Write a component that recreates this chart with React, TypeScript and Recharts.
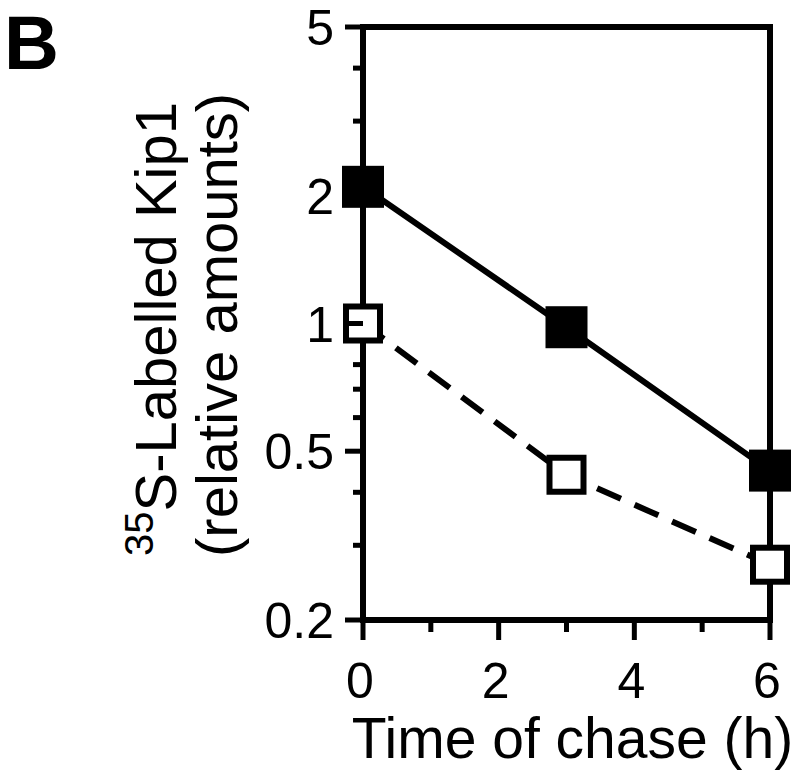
import React from 'react';
import { LineChart, Line, XAxis, YAxis, ReferenceLine } from 'recharts';

const times = [0, 3, 6];
const filledKip1 = [2.1, 0.98, 0.45];
const openKip1 = [1.0, 0.44, 0.27];

const xTicks = [0, 1, 2, 3, 4, 5, 6];
const xMajor = [0, 2, 4, 6];
const yTicks = [0.2, 0.3, 0.4, 0.5, 0.6, 0.7, 0.8, 0.9, 1, 2, 3, 4, 5];
const yMajor = [0.2, 0.5, 1, 2, 5];

const data = times.map((t, i) => ({ time: t, filled: filledKip1[i], open: openKip1[i] }));

const font = '"Liberation Sans", Arial, Helvetica, sans-serif';

const YTick = (props: any) => {
  const { x, y, payload } = props;
  const major = yMajor.includes(payload.value);
  return (
    <g>
      <line x1={x - (major ? 18 : 10)} x2={x} y1={y} y2={y} stroke="#000" strokeWidth={5} />
      {major && (
        <text x={x - 29} y={y} dy={18} textAnchor="end" fontSize={50} fontFamily={font} fill="#000">
          {String(payload.value)}
        </text>
      )}
    </g>
  );
};

const XTick = (props: any) => {
  const { x, y, payload } = props;
  const major = xMajor.includes(payload.value);
  return (
    <g>
      <line x1={x} x2={x} y1={y} y2={y + (major ? 20 : 12)} stroke="#000" strokeWidth={5} />
      {major && (
        <text x={x - 3} y={y + 78} textAnchor="middle" fontSize={50} fontFamily={font} fill="#000">
          {String(payload.value)}
        </text>
      )}
    </g>
  );
};

const FilledSquare = (props: any) => {
  const { cx, cy } = props;
  return <rect x={cx - 21} y={cy - 21} width={42} height={42} fill="#000" />;
};

const OpenSquare = (props: any) => {
  const { cx, cy } = props;
  return <rect x={cx - 17} y={cy - 17} width={34} height={34} fill="#fff" stroke="#000" strokeWidth={6} />;
};

const YTitle = () => (
  <g fontFamily={font} fill="#000">
    <text x={4} y={69} fontSize={76} fontWeight="bold">B</text>
    <text transform="translate(176,556) rotate(-90)" fontSize={58}>
      <tspan fontSize={40} dy={-23}>35</tspan>
      <tspan dy={23}>S-Labelled Kip1</tspan>
    </text>
    <text transform="translate(237,557) rotate(-90)" fontSize={58}>
      (relative amounts)
    </text>
  </g>
);

const XTitle = (props: any) => {
  const { viewBox } = props;
  return (
    <text x={viewBox.x + viewBox.width / 2 + 6} y={viewBox.y + 138} textAnchor="middle" fontSize={57} fontFamily={font} fill="#000">
      Time of chase (h)
    </text>
  );
};

export default function App() {
  return (
    <div style={{ position: 'absolute', left: 0, top: 0, width: 800, height: 779, background: '#fff' }}>
      <LineChart width={800} height={779} data={data} margin={{ top: 27, right: 30, left: 0, bottom: 0 }}>
        <XAxis
          dataKey="time"
          type="number"
          domain={[0, 6]}
          ticks={xTicks}
          tick={<XTick />}
          tickLine={false}
          tickSize={0}
          tickMargin={0}
          height={159}
          axisLine={{ stroke: '#000', strokeWidth: 6, strokeLinecap: 'square' }}
          label={{ content: (p: any) => <XTitle {...p} /> }}
        />
        <YAxis
          type="number"
          scale="log"
          domain={[0.2, 5]}
          ticks={yTicks}
          tick={<YTick />}
          tickLine={false}
          tickSize={0}
          tickMargin={0}
          width={363}
          axisLine={{ stroke: '#000', strokeWidth: 6, strokeLinecap: 'square' }}
          label={{ content: () => <YTitle /> }}
        />
        <ReferenceLine y={5} stroke="#000" strokeWidth={6} strokeLinecap="square" />
        <ReferenceLine x={6} stroke="#000" strokeWidth={6} strokeLinecap="square" />
        <Line
          dataKey="open"
          stroke="#000"
          strokeWidth={6}
          strokeDasharray="26 15"
          dot={<OpenSquare />}
          activeDot={false}
          isAnimationActive={false}
        />
        <Line
          dataKey="filled"
          stroke="#000"
          strokeWidth={6}
          dot={<FilledSquare />}
          activeDot={false}
          isAnimationActive={false}
        />
      </LineChart>
    </div>
  );
}
